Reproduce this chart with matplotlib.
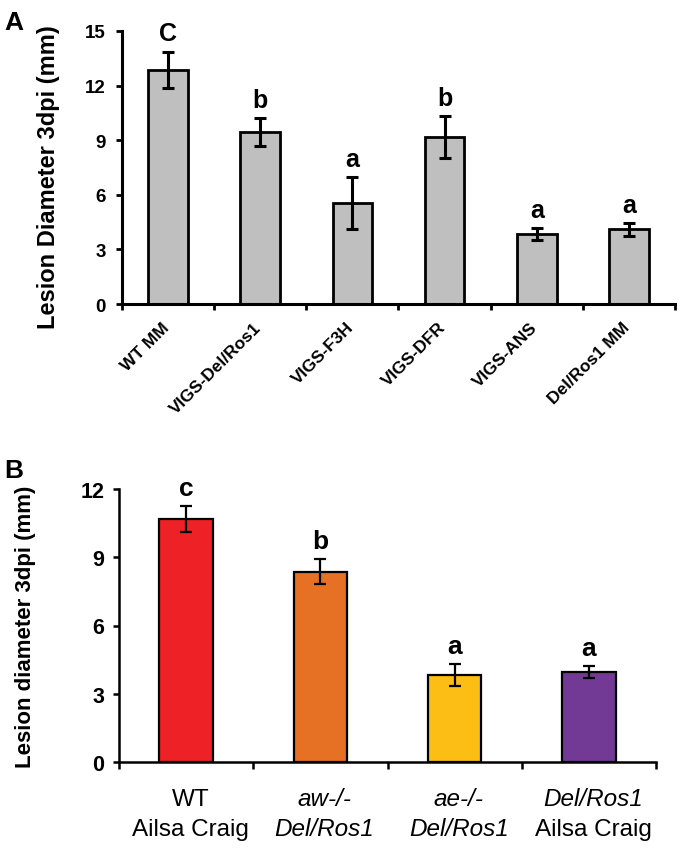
import matplotlib
matplotlib.use("Agg")
import matplotlib.pyplot as plt
from matplotlib.transforms import ScaledTranslation
import numpy as np

plt.rcParams['font.family'] = ['Liberation Sans', 'DejaVu Sans']

# Panel A data
a_categories = ["WT MM", "VIGS-Del/Ros1", "VIGS-F3H", "VIGS-DFR", "VIGS-ANS", "Del/Ros1 MM"]
a_values = [12.87, 9.45, 5.55, 9.16, 3.85, 4.10]
a_errors = [1.00, 0.75, 1.43, 1.15, 0.32, 0.36]
a_letters = ["C", "b", "a", "b", "a", "a"]
a_yticks = [0, 3, 6, 9, 12, 15]

# Panel B data
b_line1 = ["WT", "aw-/-", "ae-/-", "Del/Ros1"]
b_line2 = ["Ailsa Craig", "Del/Ros1", "Del/Ros1", "Ailsa Craig"]
b_italic1 = [False, True, True, True]
b_italic2 = [False, True, True, False]
b_values = [10.67, 8.37, 3.82, 3.97]
b_errors = [0.58, 0.54, 0.47, 0.26]
b_letters = ["c", "b", "a", "a"]
b_colors = ["#EE2126", "#E67125", "#FCBE14", "#723A94"]
b_yticks = [0, 3, 6, 9, 12]

W, H = 681, 853
fig = plt.figure(figsize=(W / 100, H / 100), dpi=100)

# ---------------- Panel A ----------------
a_left, a_right, a_top, a_bot = 122, 675, 32, 305
axA = fig.add_axes([a_left / W, 1 - a_bot / H, (a_right - a_left) / W, (a_bot - a_top) / H])
xa = np.arange(len(a_categories))
axA.bar(xa, a_values, width=0.43, color="#BFBFBF", edgecolor="black", linewidth=2.0, zorder=2)
axA.errorbar(xa, a_values, yerr=a_errors, fmt="none", ecolor="black", elinewidth=2.2,
             capsize=4, capthick=2.2, zorder=3)
for x, v, e, t in zip(xa, a_values, a_errors, a_letters):
    axA.annotate(t, (x, v + e), xytext=(0, 8), textcoords="offset points",
                 ha="center", va="baseline", fontsize=18, fontweight="bold")
axA.set_xlim(-0.5, len(a_categories) - 0.5)
axA.set_ylim(0, 15)
axA.set_yticks(a_yticks)
axA.set_yticklabels([str(t) for t in a_yticks], fontsize=13.5, fontweight="bold")
axA.set_xticks(xa)
axA.set_xticklabels(a_categories, rotation=45, ha="right", rotation_mode="anchor",
                    fontsize=12.5, fontweight="bold")
axA.tick_params(axis="x", which="major", length=0, pad=11)
shift = ScaledTranslation(-5 / 72, 0, fig.dpi_scale_trans)
for lab in axA.get_xticklabels():
    lab.set_transform(lab.get_transform() + shift)
axA.set_xticks(np.arange(-0.5, len(a_categories)), minor=True)
axA.tick_params(axis="x", which="minor", length=4, width=2, direction="out")
axA.tick_params(axis="y", length=4.5, width=2, direction="out", pad=7)
for s in ["top", "right"]:
    axA.spines[s].set_visible(False)
for s in ["left", "bottom"]:
    axA.spines[s].set_linewidth(2.2)
axA.set_ylabel("Lesion Diameter 3dpi (mm)", fontsize=17, fontweight="bold")
axA.yaxis.set_label_coords(-(a_left - 60) / (a_right - a_left), 0.47)
fig.text(4 / W, 1 - 30 / H, "A", fontsize=19, fontweight="bold", ha="left", va="baseline")

# ---------------- Panel B ----------------
b_left, b_right, b_top, b_bot = 119, 656, 490, 763
axB = fig.add_axes([b_left / W, 1 - b_bot / H, (b_right - b_left) / W, (b_bot - b_top) / H])
xb = np.arange(len(b_values))
axB.bar(xb, b_values, width=0.40, color=b_colors, edgecolor="black", linewidth=1.6, zorder=2)
axB.errorbar(xb, b_values, yerr=b_errors, fmt="none", ecolor="black", elinewidth=1.6,
             capsize=4, capthick=1.6, zorder=3)
for x, v, e, t in zip(xb, b_values, b_errors, b_letters):
    axB.annotate(t, (x, v + e), xytext=(0, 8), textcoords="offset points",
                 ha="center", va="baseline", fontsize=19, fontweight="bold")
axB.set_xlim(-0.5, len(b_values) - 0.5)
axB.set_ylim(0, 12)
axB.set_yticks(b_yticks)
axB.set_yticklabels([str(t) for t in b_yticks], fontsize=15.5, fontweight="bold")
axB.set_xticks(xb)
axB.set_xticklabels([""] * len(b_values))
axB.tick_params(axis="x", which="major", length=0)
axB.set_xticks(np.arange(-0.5, len(b_values)), minor=True)
axB.tick_params(axis="x", which="minor", length=5, width=1.8, direction="out")
axB.tick_params(axis="y", length=4.5, width=1.8, direction="out", pad=6)
for s in ["top", "right"]:
    axB.spines[s].set_visible(False)
for s in ["left", "bottom"]:
    axB.spines[s].set_linewidth(1.8)
for x, l1, l2, i1, i2 in zip(xb, b_line1, b_line2, b_italic1, b_italic2):
    axB.annotate(l1, (x, 0), xytext=(3, -(800 - b_bot) * 0.72), textcoords="offset points",
                 ha="center", va="center", fontsize=17.5,
                 fontstyle="italic" if i1 else "normal")
    axB.annotate(l2, (x, 0), xytext=(3, -(830 - b_bot) * 0.72), textcoords="offset points",
                 ha="center", va="center", fontsize=17.5,
                 fontstyle="italic" if i2 else "normal")
axB.set_ylabel("Lesion diameter 3dpi (mm)", fontsize=16, fontweight="bold")
axB.yaxis.set_label_coords(-(b_left - 36) / (b_right - b_left), 0.5)
fig.text(4 / W, 1 - 478 / H, "B", fontsize=19, fontweight="bold", ha="left", va="baseline")

fig.savefig("out.png", dpi=100)
